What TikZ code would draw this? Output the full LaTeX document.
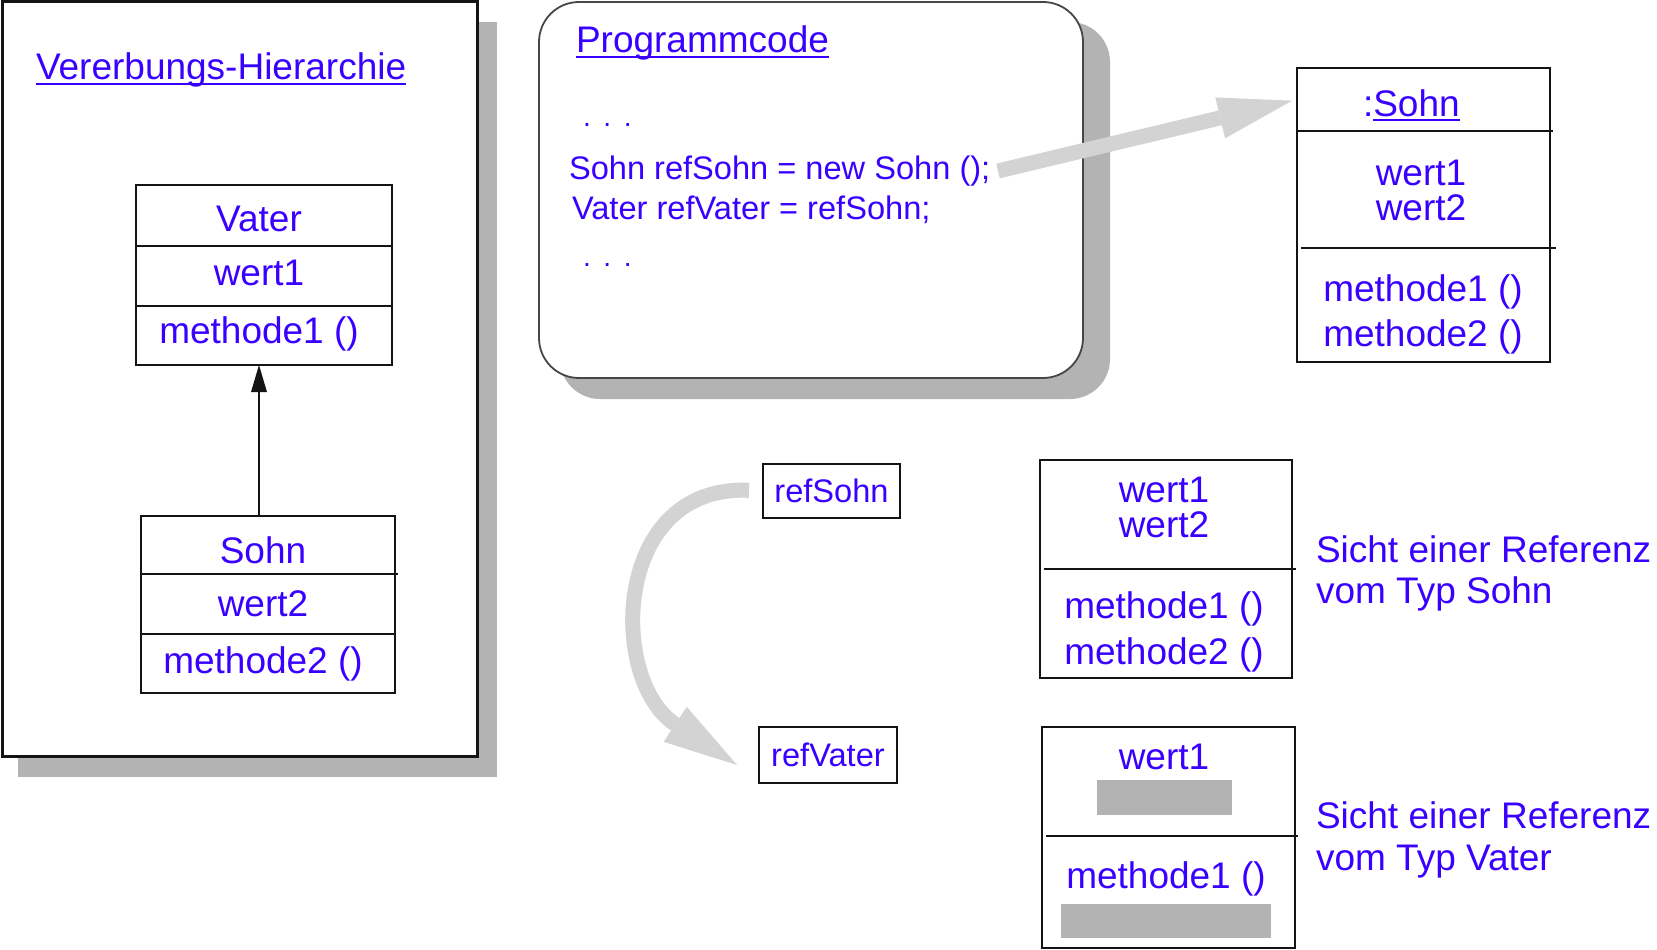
\documentclass[tikz,border=0pt]{standalone}
\usepackage{fontspec}
\setmainfont{Liberation Sans}
\usetikzlibrary{arrows.meta,calc}

\definecolor{ink}{RGB}{58,0,255}
\definecolor{shadowgray}{RGB}{179,179,179}
\definecolor{pale}{RGB}{211,211,211}
\definecolor{frame}{RGB}{20,20,20}
\definecolor{codeframe}{RGB}{70,70,70}

\newcommand\fsbig{\fontsize{37}{40}\selectfont}
\newcommand\fscode{\fontsize{32.6}{36}\selectfont}
\newcommand\fsdots{\fontsize{28}{30}\selectfont}

\begin{document}
\begin{tikzpicture}[x=1pt,y=-1pt,
  lbl/.style={inner sep=0pt, outer sep=0pt, text=ink, font=\fsbig, anchor=base},
  lblw/.style={lbl, anchor=base west},
  codetext/.style={inner sep=0pt, outer sep=0pt, text=ink, font=\fscode, anchor=base west},
  dotstext/.style={inner sep=0pt, outer sep=0pt, text=ink, font=\fsdots, anchor=base west},
  umlbox/.style={draw=frame, line width=2.5pt, fill=white, inner sep=0pt, outer sep=0pt, anchor=north west},
  sep/.style={draw=frame, line width=2.5pt},
  uline/.style={draw=ink, line width=2.2pt},
  inherit/.style={draw=frame, line width=2.5pt, -{Triangle[length=27pt,width=16pt,line width=0pt]}},
  fatarrow/.style={draw=pale, line width=15pt, -{Triangle[length=74pt,width=42pt,line width=0pt]}}
]
\useasboundingbox (0,0) rectangle (1657,950);
\fill[white] (0,0) rectangle (1657,950);

% ---------- inheritance hierarchy panel ----------
\fill[shadowgray] (18,22) rectangle (497,777);
\node[draw=frame, line width=3pt, fill=white, inner sep=0pt, outer sep=0pt,
      anchor=north west, minimum width=475pt, minimum height=754pt] (hier) at (2,2) {};
\node[lblw] (hiertitle) at (36,80) {Vererbungs-Hierarchie};
\draw[uline] ($(hiertitle.base west)+(0,4)$) -- ($(hiertitle.base east)+(0,4)$);

% class Vater
\node[umlbox, minimum width=256pt, minimum height=180pt] (vater) at (136,185) {};
\draw[sep] (136,246) -- (392,246);
\draw[sep] (136,306) -- (392,306);
\node[lbl] (vname) at (259,231) {Vater};
\node[lbl] (vattr) at (259,285) {wert1};
\node[lbl] (vop)   at (259,343) {methode1 ()};

% class Sohn
\node[umlbox, minimum width=254pt, minimum height=177pt] (sohn) at (141,516) {};
\draw[sep] (141,574) -- (398,574);
\draw[sep] (141,634) -- (395,634);
\node[lbl] (sname) at (263,563) {Sohn};
\node[lbl] (sattr) at (263,616) {wert2};
\node[lbl] (sop)   at (263,673) {methode2 ()};

% generalisation
\draw[inherit] (sohn.north -| vattr) -- (vater.south -| vattr);

% ---------- program code ----------
\fill[shadowgray, rounded corners=40pt] (560,22) rectangle (1110,399);
\node[draw=codeframe, line width=1.8pt, fill=white, rounded corners=40pt, inner sep=0pt,
      outer sep=0pt, anchor=north west, minimum width=544pt, minimum height=376pt] (prog) at (539,2) {};
\node[lblw] (progtitle) at (576,53) {Programmcode};
\draw[uline] ($(progtitle.base west)+(0,4)$) -- ($(progtitle.base east)+(0,4)$);
\node[dotstext] (dotsa) at (583,126) {.\hspace{12.7pt}.\hspace{12.7pt}.};
\node[codetext] (linea) at (569,179) {Sohn refSohn = new Sohn ();};
\node[codetext] (lineb) at (572,219) {Vater refVater = refSohn;};
\node[dotstext] (dotsb) at (583,266) {.\hspace{12.7pt}.\hspace{12.7pt}.};

% ---------- object :Sohn ----------
\node[umlbox, minimum width=253pt, minimum height=294pt] (obj) at (1297,68) {};
\node[inner sep=0pt, outer sep=0pt, anchor=north west, minimum width=253pt, minimum height=63pt] (objhead) at (1297,68) {};
\draw[sep] (1297,131) -- (1553,131);
\draw[sep] (1301,248) -- (1556,248);
\node[lblw] (objcolon) at (1363,116) {:};
\node[lblw] (objname) at (objcolon.base east) {Sohn};
\draw[uline] ($(objname.base west)+(0,4)$) -- ($(objname.base east)+(0,4)$);
\node[lbl] (objwa) at (1421,185) {wert1};
\node[lbl] (objwb) at (1421,220) {wert2};
\node[lbl] (objma) at (1423,301) {methode1 ()};
\node[lbl] (objmb) at (1423,346) {methode2 ()};

% creation arrow
\coordinate (newtail) at (998,171);
\draw[fatarrow, shorten >=5pt] (newtail) -- (objhead.west);

% ---------- references ----------
\node[umlbox, anchor=center, minimum width=137pt, minimum height=54pt, text=ink, font=\fscode] (refsohn) at (831.5,491) {refSohn};
\node[umlbox, anchor=center, minimum width=138pt, minimum height=56pt, text=ink, font=\fscode] (refvater) at (828,755) {refVater};
\coordinate (assigntip) at (737,765);
\draw[fatarrow, shorten <=14pt] (refsohn.west) .. controls (612,484) and (608,680) .. (assigntip);

% ---------- view through a Sohn reference ----------
\node[umlbox, minimum width=252pt, minimum height=218pt] (sview) at (1040,460) {};
\draw[sep] (1044,569) -- (1296,569);
\node[lbl] (svwa) at (1164,502) {wert1};
\node[lbl] (svwb) at (1164,537) {wert2};
\node[lbl] (svma) at (1164,618) {methode1 ()};
\node[lbl] (svmb) at (1164,664) {methode2 ()};
\node[lblw] (scapa) at (1316,562) {Sicht einer Referenz};
\node[lblw] (scapb) at (1316,603) {vom Typ Sohn};

% ---------- view through a Vater reference ----------
\node[umlbox, minimum width=253pt, minimum height=221pt] (vview) at (1042,727) {};
\draw[sep] (1046,836) -- (1298,836);
\node[lbl] (vvwa) at (1164,769) {wert1};
\fill[shadowgray] (1097,780) rectangle (1232,815);
\node[lbl] (vvma) at (1166,888) {methode1 ()};
\fill[shadowgray] (1061,904) rectangle (1271,938);
\node[lblw] (vcapa) at (1316,828) {Sicht einer Referenz};
\node[lblw] (vcapb) at (1316,870) {vom Typ Vater};
\end{tikzpicture}
\end{document}
